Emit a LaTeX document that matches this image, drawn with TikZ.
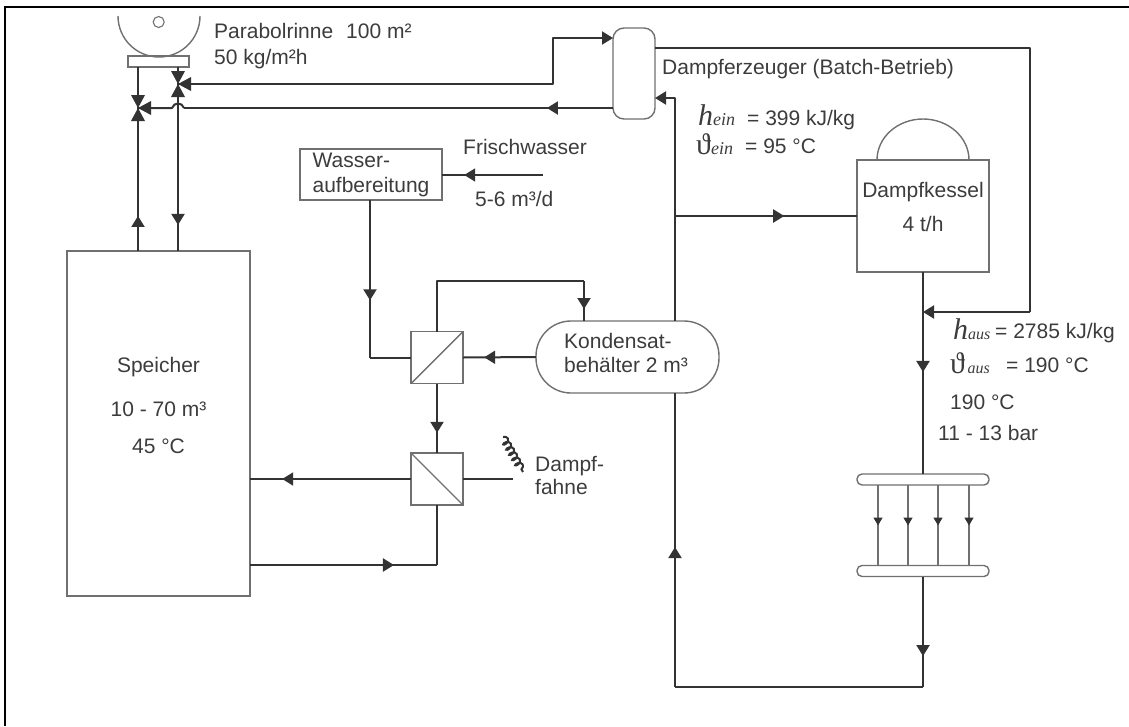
\documentclass[tikz,border=0pt]{standalone}
\usepackage{fontspec}
\setmainfont{Liberation Sans}
\newfontfamily\symfont{Liberation Serif}
\usetikzlibrary{arrows.meta, decorations.markings, decorations.pathmorphing}
\definecolor{pipecol}{HTML}{333333}
\definecolor{rimcol}{HTML}{707070}
\definecolor{textcol}{HTML}{3C3C3C}
\newcommand{\bigh}[1]{{\symfont\itshape\fontsize{30}{30}\selectfont h}{\symfont\itshape\fontsize{18}{18}\selectfont #1}}
\newcommand{\bigtheta}[1]{{\symfont\fontsize{30}{30}\selectfont ϑ}{\symfont\itshape\fontsize{18}{18}\selectfont #1}}
\tikzset{
	pipe/.style={draw=pipecol, line width=2pt, line join=round},
	rim/.style={draw=rimcol, line width=1.4pt},
	flow/.style={postaction={decorate}, decoration={markings, mark=at position #1 with {\arrow{Triangle[length=11pt, width=13pt]}}}},
	smallflow/.style={postaction={decorate}, decoration={markings, mark=at position #1 with {\arrow[pipecol]{Triangle[length=8pt, width=9pt]}}}},
	endtip/.style={-{Triangle[length=11pt, width=13pt]}},
	vessel/.style={rim, fill=white, rectangle, inner sep=0pt, outer sep=0pt},
	exchanger/.style={vessel, minimum size=52pt},
	header/.style={vessel, rounded corners=5pt, minimum width=132pt, minimum height=11pt},
	txt/.style={anchor=base west, inner sep=0pt, text=textcol, font=\fontsize{21}{25}\selectfont},
	txtc/.style={txt, anchor=base},
	valve/.pic={
		\fill[pipecol] (0,0) -- (-7,-13) -- (7,-13) -- cycle;
		\fill[pipecol] (0,0) -- (-7,13) -- (7,13) -- cycle;
		\fill[pipecol] (0,0) -- (13,-7) -- (13,7) -- cycle;
	}
}
\begin{document}
\begin{tikzpicture}[x=1pt, y=-1pt]
	\useasboundingbox (0,0) rectangle (1129,726);
	% frame
	\coordinate (frameA) at (5,726);
	\coordinate (frameB) at (5,7);
	\coordinate (frameC) at (1129,7);
	\draw[black, line width=1.6pt] (frameA) -- (frameB) -- (frameC);
	
	% vessels
	\node[vessel, minimum width=61pt, minimum height=11pt] (receiver) at (158.5,61.5) {};
	\node[vessel, minimum width=183pt, minimum height=345pt] (speicher) at (158.5,423.5) {};
	\node[vessel, minimum width=142pt, minimum height=51pt, align=left, text=textcol, font=\fontsize{21}{25}\selectfont] (wasser) at (371,174.5) {Wasser-\\aufbereitung};
	\node[vessel, rounded corners=11pt, minimum width=42pt, minimum height=91pt] (erzeuger) at (634,73.5) {};
	\node[vessel, minimum width=132pt, minimum height=112pt] (kessel) at (923,216) {};
	\node[vessel, rounded corners=35pt, minimum width=183pt, minimum height=72pt] (tank) at (627.5,357) {};
	\node[exchanger] (hxa) at (437,357.5) {};
	\node[exchanger] (hxb) at (437,479) {};
	\node[header] (headtop) at (923,479.5) {};
	\node[header] (headbot) at (923,571) {};
	
	% points the pipes turn at
	\coordinate (valveA) at (138,108);
	\coordinate (valveB) at (178,84);
	\coordinate (hopA) at (172,108);
	\coordinate (hopB) at (184,108);
	\coordinate (riseA) at (553,84);
	\coordinate (riseB) at (553,38);
	\coordinate (feedA) at (675,98);
	\coordinate (feedB) at (675,216);
	\coordinate (loopA) at (675,687);
	\coordinate (loopB) at (923,687);
	\coordinate (backA) at (1030,48);
	\coordinate (backB) at (1030,312);
	\coordinate (backC) at (923,312);
	\coordinate (fresh) at (543,175);
	\coordinate (softA) at (370,357.5);
	\coordinate (condA) at (437,281);
	\coordinate (condB) at (584,281);
	\coordinate (plume) at (513,479);
	\coordinate (storeA) at (437,565);
	
	% pipes
	\draw[pipe, flow=0.245] (valveA |- speicher.north) -- (valveA);
	\draw[pipe, flow=0.844] (valveB) -- (valveB |- speicher.north);
	\draw[pipe] (valveA |- receiver.south) -- (valveA);
	\draw[pipe] (valveB |- receiver.south) -- (valveB);
	\draw[pipe, endtip] (valveB) -- (riseA) -- (riseB) -- (riseB -| erzeuger.west);
	\draw[pipe, flow=0.154] (hopB -| erzeuger.west) -- (hopB);
	\draw[pipe] (hopB) .. controls (182,102) and (174,102) .. (hopA) -- (valveA);
	\draw[pipe] (erzeuger.east |- backA) -- (backA) -- (backB);
	\draw[pipe, endtip] (backB) -- (backC);
	\draw[pipe, endtip] (feedA |- tank.north) -- (feedA) -- (feedA -| erzeuger.east);
	\draw[pipe, flow=0.6] (feedB) -- (feedB -| kessel.west);
	\draw[pipe, flow=0.476] (loopA) -- (feedA |- tank.south);
	\draw[pipe, flow=0.495] (kessel.south) -- (headtop.north);
	\draw[pipe, flow=0.72] (headbot.south) -- (loopB);
	\draw[pipe] (loopB) -- (loopA);
	\foreach \px in {878,908,938,969} {
		\draw[rim, smallflow=0.5] (\px,485) -- (\px,566);
	}
	\draw[pipe, flow=0.78] (fresh) -- (fresh -| wasser.east);
	\draw[pipe, flow=0.637] (wasser.south -| softA) -- (softA);
	\draw[pipe] (softA) -- (hxa.west);
	\draw[pipe] (hxa.north) -- (condA) -- (condB);
	\draw[pipe, flow=0.7] (condB) -- (condB |- tank.north);
	\draw[pipe, flow=0.71] (tank.west) -- (hxa.east);
	\draw[pipe, flow=0.71] (hxa.south) -- (hxb.north);
	\draw[pipe, flow=0.8] (hxb.west) -- (hxb.west -| speicher.east);
	\draw[pipe] (hxb.east) -- (plume);
	\draw[pipe, flow=0.77] (storeA -| speicher.east) -- (storeA);
	\draw[pipe] (storeA) -- (hxb.south);
	
	% exchanger diagonals
	\draw[rim] (hxa.south west) -- (hxa.north east);
	\draw[rim] (hxb.north west) -- (hxb.south east);
	
	% valves
	\pic at (valveA) {valve};
	\pic at (valveB) {valve};
	
	% trough and boiler dome
	\coordinate (troughA) at (118,16);
	\coordinate (domeA) at (877,160);
	\draw[rim] (troughA) arc[start angle=180, end angle=360, radius=41pt];
	\node[draw=rimcol, line width=1.1pt, circle, minimum size=11pt, inner sep=0pt] (focus) at (158.7,22) {};
	\draw[rim] (domeA) arc[start angle=180, end angle=0, x radius=46pt, y radius=41pt];
	
	% steam plume
	\coordinate (coilA) at (503,437);
	\coordinate (coilB) at (523,472);
	\draw[pipecol, line width=2pt, decorate, decoration={coil, aspect=0.6, segment length=6pt, amplitude=3.5pt}] (coilA) -- (coilB);
	
	% labels
	\node[txt] (troughname) at (214,38) {Parabolrinne};
	\node[txt] (troughsize) at (346,38) {100 m²};
	\node[txt] (troughrate) at (214,64) {50 kg/m²h};
	\node[txt] (erzeugername) at (662,74) {Dampferzeuger (Batch-Betrieb)};
	\node[txt] (hein) at (698,125) {\bigh{ein}};
	\node[txt] (heinval) at (747,125) {= 399 kJ/kg};
	\node[txt] (tein) at (696,154) {\bigtheta{ein}};
	\node[txt] (teinval) at (745,153) {= 95 °C};
	\node[txt] (frischname) at (463,154) {Frischwasser};
	\node[txt] (frischrate) at (475,206) {5-6 m³/d};
	\node[txtc] (kesselname) at (923,197) {Dampfkessel};
	\node[txtc] (kesselrate) at (923,231) {4 t/h};
	\node[txt] (tankname) at (564,348) {Kondensat-};
	\node[txt] (tanksize) at (564,372) {behälter 2 m³};
	\node[txt] (plumename) at (535,471) {Dampf-};
	\node[txt] (plumename2) at (535,494) {fahne};
	\node[txt] (haus) at (953,339) {{\symfont\itshape\fontsize{30}{30}\selectfont h}{\symfont\itshape\fontsize{16}{16}\selectfont aus}};
	\node[txt] (hausval) at (995,338) {= 2785 kJ/kg};
	\node[txt] (taus) at (950,373) {{\symfont\fontsize{30}{30}\selectfont ϑ}{\symfont\itshape\fontsize{16}{16}\selectfont\,aus}};
	\node[txt] (tausval) at (1006,372) {= 190 °C};
	\node[txt] (steamtemp) at (950,409) {190 °C};
	\node[txt] (steampress) at (938,440) {11 - 13 bar};
	\node[txtc] (speichername) at (158.5,372) {Speicher};
	\node[txtc] (speichersize) at (158.5,416) {10 - 70 m³};
	\node[txtc] (speichertemp) at (158.5,453) {45 °C};
\end{tikzpicture}
\end{document}
